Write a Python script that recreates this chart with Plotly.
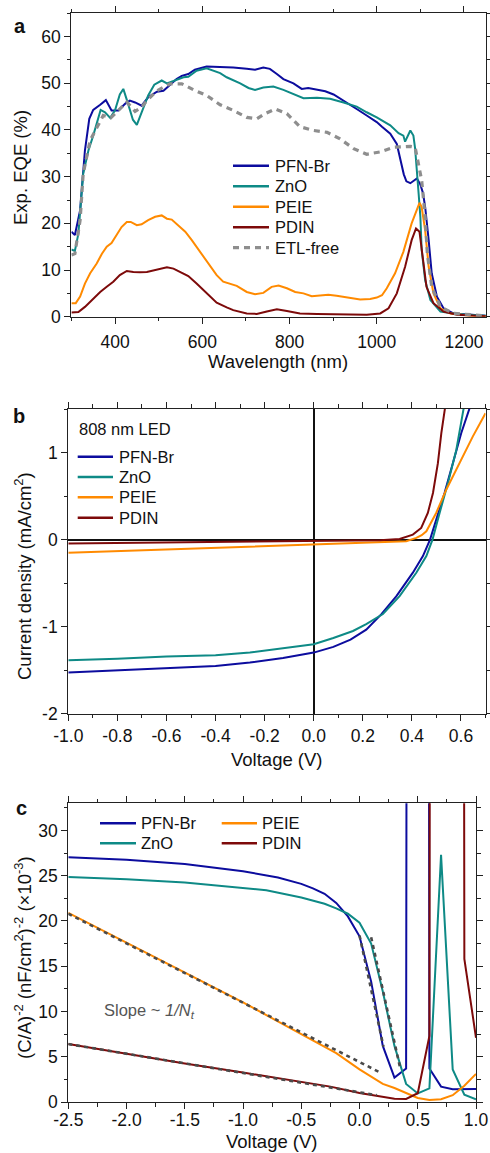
import plotly.graph_objects as go

FONT = "Liberation Sans, Arial, Helvetica, sans-serif"
W, H = 490, 1153

# ---------------- names / colours ----------------
series_names = ["PFN-Br", "ZnO", "PEIE", "PDIN"]
etl_free_name = "ETL-free"
led_label = "808 nm LED"
slope_label = "Slope ~ <i>1/N<sub>t</sub></i>"
colors = {"PFN-Br": "#0c0c9e", "ZnO": "#0e8a86", "PEIE": "#ff8a00",
          "PDIN": "#7d0a0a", "ETL-free": "#8e8e8e", "fit": "#4a4a4a"}

# ---------------- panel a : EQE spectra ----------------
wl_pfnbr = [300, 308, 320, 331, 341, 350, 366, 379, 392, 408, 423, 434, 446, 461, 476,
            496, 511, 526, 541, 553, 568, 583, 610, 640, 671, 702, 721, 740, 755, 771,
            786, 809, 828, 843, 863, 882, 901, 931, 954, 977, 1000, 1012, 1031, 1046,
            1054, 1062, 1068, 1077, 1092, 1100, 1106, 1111, 1119, 1126, 1138, 1153, 1176,
            1222, 1250]
eqe_pfnbr = [18.2, 17.5, 22.8, 35.6, 42.4, 44.3, 45.4, 46.4, 44.2, 44.2, 45.6, 46.3, 45.9,
             45.2, 47.0, 48.2, 48.4, 49.6, 50.9, 51.6, 52.0, 52.9, 53.6, 53.5, 53.4, 53.1,
             52.9, 53.4, 53.1, 52.0, 50.9, 50.0, 48.8, 49.0, 48.6, 48.3, 47.6, 45.9, 44.5,
             43.1, 41.7, 40.7, 39.2, 37.0, 33.8, 30.5, 29.0, 28.6, 29.6, 28.3, 26.5, 23.5,
             16.4, 9.3, 4.3, 1.8, 0.7, 0.4, 0.2]

wl_zno = [300, 308, 316, 327, 339, 350, 367, 377, 389, 400, 411, 419, 430, 441, 450, 461,
          476, 490, 507, 519, 538, 557, 568, 587, 610, 625, 641, 656, 687, 706, 721, 740,
          763, 786, 809, 832, 863, 893, 924, 954, 977, 1000, 1031, 1050, 1061, 1065, 1077,
          1084, 1088, 1092, 1096, 1100, 1103, 1111, 1123, 1146, 1184, 1230, 1250]
eqe_zno = [14.4, 14.1, 17.8, 30.6, 35.6, 38.8, 44.3, 43.8, 42.6, 44.2, 47.6, 48.8, 45.6,
           42.2, 41.1, 43.8, 47.4, 49.7, 50.6, 50.0, 50.6, 51.3, 51.4, 52.7, 53.2, 52.7,
           52.2, 51.3, 50.0, 49.0, 48.6, 49.1, 49.3, 48.6, 47.7, 46.8, 46.9, 46.7, 45.9,
           45.0, 43.8, 42.7, 41.0, 39.3, 38.8, 37.5, 39.9, 38.8, 36.0, 32.0, 26.4, 21.4,
           14.3, 7.8, 3.6, 1.1, 0.6, 0.3, 0.2]

wl_peie = [300, 310, 320, 331, 343, 358, 370, 381, 392, 404, 415, 427, 436, 450, 461, 476,
           492, 507, 519, 530, 545, 561, 576, 595, 614, 633, 648, 664, 679, 702, 721, 740,
           759, 775, 794, 813, 832, 851, 870, 889, 908, 931, 962, 985, 1000, 1012, 1023,
           1042, 1061, 1080, 1092, 1098, 1103, 1111, 1119, 1130, 1146, 1169, 1215, 1250]
eqe_peie = [2.9, 2.9, 4.3, 7.1, 9.3, 11.4, 13.5, 15.0, 15.8, 17.5, 19.2, 20.3, 20.3, 19.6,
            19.8, 20.7, 21.4, 21.7, 21.0, 20.8, 19.6, 18.2, 16.4, 13.9, 11.4, 8.9, 7.5,
            7.0, 6.6, 5.3, 4.8, 5.1, 6.4, 6.7, 6.1, 5.3, 5.0, 4.4, 4.5, 4.7, 4.5, 4.1,
            3.7, 3.8, 4.1, 4.6, 6.1, 9.3, 13.9, 20.0, 23.2, 24.4, 23.5, 18.5, 10.7, 5.0,
            1.8, 0.7, 0.2, 0.1]

wl_pdin = [300, 316, 331, 350, 366, 381, 396, 411, 427, 442, 457, 473, 496, 519, 534, 549,
           568, 587, 610, 633, 656, 671, 702, 725, 748, 771, 794, 824, 863, 901, 939, 977,
           1008, 1027, 1046, 1065, 1080, 1090, 1098, 1105, 1114, 1130, 1153, 1184, 1250]
eqe_pdin = [0.9, 1.0, 2.1, 3.9, 5.3, 6.4, 7.5, 8.9, 9.8, 9.6, 9.5, 9.6, 10.1, 10.6, 10.3,
            9.6, 8.7, 7.1, 5.0, 3.0, 2.0, 1.4, 0.7, 0.6, 1.1, 1.6, 1.2, 0.7, 0.6, 0.5, 0.4,
            0.4, 0.7, 1.8, 5.0, 10.7, 16.4, 18.9, 18.2, 12.8, 6.4, 2.9, 1.1, 0.4, 0.1]

wl_etlfree = [300, 308, 320, 327, 343, 358, 373, 390, 411, 427, 446, 460, 473, 496, 526,
              553, 580, 610, 641, 671, 702, 725, 744, 767, 794, 824, 855, 886, 916, 947,
              977, 1008, 1038, 1077, 1088, 1092, 1103, 1111, 1116, 1126, 1146, 1176, 1222,
              1250]
eqe_etlfree = [13.2, 13.5, 20.7, 30.6, 37.8, 40.6, 43.1, 42.6, 44.5, 46.0, 44.0, 44.8,
               46.3, 48.4, 49.9, 49.9, 48.6, 47.4, 45.4, 44.2, 42.7, 42.4, 43.5, 44.5,
               43.5, 40.7, 39.9, 39.5, 38.1, 36.0, 34.8, 35.3, 36.3, 36.5, 36.3, 34.2,
               29.2, 21.4, 13.5, 6.4, 2.1, 0.7, 0.3, 0.2]

# ---------------- panel b : J-V under 808 nm LED ----------------
v_pfnbr = [-1.0, -0.8, -0.6, -0.4, -0.26, -0.125, 0.0, 0.08, 0.15, 0.214, 0.275, 0.337,
           0.404, 0.445, 0.474, 0.499, 0.533, 0.567, 0.601, 0.635, 0.66]
j_pfnbr = [-1.527, -1.50, -1.478, -1.451, -1.413, -1.36, -1.298, -1.233, -1.15, -1.035,
           -0.86, -0.65, -0.38, -0.19, 0.0, 0.23, 0.535, 0.878, 1.222, 1.508, 1.75]

v_zno = [-1.0, -0.8, -0.6, -0.4, -0.26, -0.125, 0.0, 0.08, 0.16, 0.214, 0.282, 0.35,
         0.418, 0.459, 0.484, 0.513, 0.547, 0.581, 0.611, 0.64]
j_zno = [-1.386, -1.37, -1.344, -1.33, -1.298, -1.252, -1.203, -1.13, -1.05, -0.97,
         -0.855, -0.649, -0.381, -0.19, 0.0, 0.306, 0.65, 1.03, 1.508, 1.85]

v_peie = [-1.0, -0.5, 0.0, 0.27, 0.377, 0.418, 0.44, 0.459, 0.499, 0.54, 0.594, 0.648, 0.7]
j_peie = [-0.152, -0.103, -0.05, -0.031, -0.019, 0.019, 0.05, 0.095, 0.306, 0.573,
          0.878, 1.183, 1.451]

v_pdin = [-1.0, -0.5, 0.0, 0.27, 0.35, 0.404, 0.438, 0.465, 0.486, 0.506, 0.52, 0.536, 0.55]
j_pdin = [-0.046, -0.03, -0.015, -0.008, 0.008, 0.057, 0.134, 0.306, 0.535, 0.878,
          1.222, 1.508, 1.8]

# ---------------- panel c : Mott-Schottky ----------------
v_pfnbr_c = [-2.5, -2.0, -1.5, -1.0, -0.7, -0.5, -0.4, -0.3, -0.2, -0.1, 0.0, 0.1, 0.2,
             0.3, 0.4, 0.5, 0.6, 0.7, 0.8, 0.9, 1.0]
cs_pfnbr = [27.05, 26.75, 26.3, 25.5, 24.8, 24.1, 23.6, 23.0, 22.0, 20.5, 18.3, 13.3,
            6.2, 2.7, 3.7, 1000.0, 3.7, 1.7, 1.4, 1.4, 1.45]

v_zno_c = [-2.5, -2.0, -1.5, -1.0, -0.8, -0.5, -0.3, -0.2, -0.1, 0.0, 0.1, 0.2, 0.3,
           0.4, 0.5, 0.6, 0.7, 0.8, 0.9, 1.0]
cs_zno = [24.85, 24.6, 24.25, 23.7, 23.4, 22.6, 21.9, 21.4, 20.8, 19.8, 17.5, 12.2, 6.2,
          2.0, 0.95, 1.5, 27.3, 3.6, 0.8, 0.3]

v_peie_c = [-2.5, -2.0, -1.5, -1.0, -0.5, -0.2, 0.0, 0.1, 0.2, 0.3, 0.4, 0.5, 0.6, 0.7,
            0.8, 0.9, 1.0]
cs_peie = [20.9, 17.6, 14.3, 11.0, 7.5, 5.4, 3.6, 2.8, 2.0, 1.55, 1.0, 0.45, 0.22, 0.3,
           0.75, 1.8, 3.1]

v_pdin_c = [-2.5, -2.0, -1.5, -1.0, -0.5, -0.25, 0.0, 0.1, 0.2, 0.3, 0.4, 0.5, 0.6, 0.7,
            0.8, 0.9, 1.0]
cs_pdin = [6.4, 5.3, 4.25, 3.25, 2.25, 1.7, 1.0, 0.8, 0.55, 0.35, 0.33, 0.97, 7.3, 1000.0,
           1000.0, 15.8, 7.1]

# linear fits (dotted)
fit_peie_v, fit_peie_y = [-2.5, 0.17], [20.8, 3.3]
fit_pdin_v, fit_pdin_y = [-2.5, 0.15], [6.4, 0.75]
fit_pfnbr_v, fit_pfnbr_y = [0.0, 0.206], [18.4, 6.1]
fit_zno_v, fit_zno_y = [0.1, 0.35], [18.2, 3.7]

# ---------------- tick labels ----------------
a_x_ticks = [400, 600, 800, 1000, 1200]
a_y_ticks = [0, 10, 20, 30, 40, 50, 60]
b_x_ticks = [-1.0, -0.8, -0.6, -0.4, -0.2, 0.0, 0.2, 0.4, 0.6]
b_x_text = ["-1.0", "-0.8", "-0.6", "-0.4", "-0.2", "0.0", "0.2", "0.4", "0.6"]
b_y_ticks = [-2, -1, 0, 1]
b_y_text = ["-2", "-1", "0", "1"]
c_x_ticks = [-2.5, -2.0, -1.5, -1.0, -0.5, 0.0, 0.5, 1.0]
c_x_text = ["-2.5", "-2.0", "-1.5", "-1.0", "-0.5", "0.0", "0.5", "1.0"]
c_y_ticks = [0, 5, 10, 15, 20, 25, 30]


def fx(p):
    return p / W


def fy(p):
    return 1 - p / H


fig = go.Figure()


def line(x, y, name, xa, ya, color, width=2.0, dash=None):
    fig.add_trace(go.Scatter(x=x, y=y, name=name, mode="lines", xaxis=xa, yaxis=ya,
                             showlegend=False,
                             line=dict(color=color, width=width, dash=dash)))


# panel a
line(wl_pfnbr, eqe_pfnbr, "PFN-Br", "x", "y", colors["PFN-Br"])
line(wl_zno, eqe_zno, "ZnO", "x", "y", colors["ZnO"])
line(wl_peie, eqe_peie, "PEIE", "x", "y", colors["PEIE"])
line(wl_pdin, eqe_pdin, "PDIN", "x", "y", colors["PDIN"])
line(wl_etlfree, eqe_etlfree, etl_free_name, "x", "y", colors["ETL-free"], 3.2, "6px,5px")

# panel b
line(v_pfnbr, j_pfnbr, "PFN-Br", "x2", "y2", colors["PFN-Br"])
line(v_zno, j_zno, "ZnO", "x2", "y2", colors["ZnO"])
line(v_peie, j_peie, "PEIE", "x2", "y2", colors["PEIE"])
line(v_pdin, j_pdin, "PDIN", "x2", "y2", colors["PDIN"])

# panel c
line(v_pfnbr_c, cs_pfnbr, "PFN-Br", "x3", "y3", colors["PFN-Br"])
line(v_zno_c, cs_zno, "ZnO", "x3", "y3", colors["ZnO"])
line(v_peie_c, cs_peie, "PEIE", "x3", "y3", colors["PEIE"])
line(v_pdin_c, cs_pdin, "PDIN", "x3", "y3", colors["PDIN"])
for fv, fyv in [(fit_peie_v, fit_peie_y), (fit_pdin_v, fit_pdin_y),
                (fit_pfnbr_v, fit_pfnbr_y), (fit_zno_v, fit_zno_y)]:
    line(fv, fyv, "fit", "x3", "y3", colors["fit"], 2.6, "4px,4px")

AX = "#222222"


def axis(domain, rng, tickvals, ticktext=None, minor_dtick=None, anchor=None, zero=False,
         standoff=0):
    d = dict(domain=domain, range=rng, anchor=anchor, showline=True, linecolor=AX,
             linewidth=1.3, mirror="ticks", ticks="outside", ticklen=6, tickwidth=1.3,
             tickcolor=AX, showgrid=False, zeroline=zero, tickmode="array",
             tickvals=tickvals, fixedrange=True, automargin=False,
             ticklabelstandoff=standoff,
             tickfont=dict(family=FONT, size=17.5, color="#111111"),
             minor=dict(tickmode="linear", tick0=0, dtick=minor_dtick, ticks="outside",
                        ticklen=3.5, tickwidth=1.1, tickcolor=AX, showgrid=False))
    if ticktext is not None:
        d["ticktext"] = ticktext
    if zero:
        d["zerolinecolor"] = "#111111"
        d["zerolinewidth"] = 1.6
    return d


fig.update_layout(
    width=W, height=H, autosize=False,
    margin=dict(l=0, r=0, t=0, b=0, pad=0, autoexpand=False),
    paper_bgcolor="white", plot_bgcolor="white",
    font=dict(family=FONT, color="#111111"),
    showlegend=False,
    xaxis=axis([fx(71.4), fx(485.8)], [300, 1250], a_x_ticks, None, 100, "y", standoff=3),
    yaxis=axis([fy(316.7), fy(13.3)], [0, 65], a_y_ticks, None, 5, "x"),
    xaxis2=axis([fx(68.3), fx(485.5)], [-1.0, 0.7], b_x_ticks, b_x_text, 0.1, "y2", True,
                standoff=0),
    yaxis2=axis([fy(713.7), fy(409.0)], [-2.0, 1.5], b_y_ticks, b_y_text, 0.5, "x2", True),
    xaxis3=axis([fx(68.3), fx(476.0)], [-2.5, 1.0], c_x_ticks, c_x_text, 0.25, "y3",
                standoff=-4),
    yaxis3=axis([fy(1102.0), fy(803.3)], [0, 33], c_y_ticks, None, 2.5, "x3"),
)

annotations = []
shapes = []


def text(x, y, s, size=18.5, xanchor="center", angle=0, color="#111111"):
    annotations.append(dict(x=fx(x), y=fy(y), xref="paper", yref="paper", text=s,
                            showarrow=False, xanchor=xanchor, yanchor="middle",
                            textangle=angle, font=dict(family=FONT, size=size, color=color)))


# panel labels
text(20, 26, "<b>a</b>", 20)
text(19, 416, "<b>b</b>", 20)
text(21, 808, "<b>c</b>", 20)

# axis titles
text(278, 362, "Wavelength (nm)")
text(21, 168, "Exp. EQE (%)", angle=-90)
text(277, 759, "Voltage (V)")
text(23, 576, "Current density (mA/cm<sup>2</sup>)", angle=-90)
text(272, 1141, "Voltage (V)")
text(23, 958, "(C/A)<sup>-2</sup> (nF/cm<sup>2</sup>)<sup>-2</sup> (×10<sup>-3</sup>)",
     angle=-90)

# slope annotation
text(101.7, 1011, slope_label, 16.5, "left", color="#555555")


def legend_item(x0, x1, xt, y, name, color, width=2.4, dash=None):
    shapes.append(dict(type="line", xref="paper", yref="paper", x0=fx(x0), x1=fx(x1),
                       y0=fy(y), y1=fy(y), line=dict(color=color, width=width, dash=dash)))
    text(xt, y, name, 16.5, "left")


# legend panel a
ya = [165.7, 186.2, 206.7, 227.2, 247.7]
for i, nm in enumerate(series_names):
    legend_item(233, 269, 273, ya[i], nm, colors[nm])
legend_item(233, 269, 273, ya[4], etl_free_name, colors["ETL-free"], 3.2, "6px,5px")

# legend panel b
text(76.5, 429, led_label, 16.5, "left")
yb = [456.7, 477.0, 497.3, 517.7]
for i, nm in enumerate(series_names):
    legend_item(77.7, 113, 117, yb[i], nm, colors[nm])

# legend panel c (two columns)
legend_item(100, 136, 138.5, 823.3, series_names[0], colors[series_names[0]])
legend_item(100, 136, 138.5, 843.3, series_names[1], colors[series_names[1]])
legend_item(221.7, 257, 260, 823.3, series_names[2], colors[series_names[2]])
legend_item(221.7, 257, 260, 843.3, series_names[3], colors[series_names[3]])

fig.update_layout(annotations=annotations, shapes=shapes)

fig.write_html("out.html")
